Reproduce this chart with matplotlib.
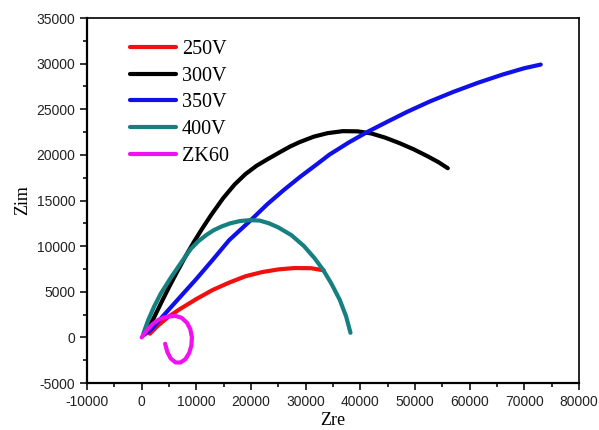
import numpy as np
import matplotlib
matplotlib.use("Agg")
import matplotlib.pyplot as plt
from matplotlib.ticker import MultipleLocator

plt.rcParams['axes.unicode_minus'] = False

# Nyquist data
x_250 = [1500, 3000, 5000, 7000, 10000, 13000, 16000, 19000, 22000, 25000, 28000, 31000, 33300]
y_250 = [400, 1300, 2300, 3100, 4200, 5200, 6000, 6700, 7150, 7450, 7600, 7580, 7350]

x_300 = [1100, 2200, 3500, 5000, 6500, 8000, 9500, 11000, 12700, 14900, 17000, 19000, 21000,
         23100, 25300, 27100, 28900, 31500, 34000, 36800, 39500, 42000, 44500, 47200, 49800,
         52300, 54300, 56000]
y_300 = [800, 2100, 3700, 5500, 7200, 8850, 10400, 11850, 13400, 15250, 16750, 17900, 18800,
         19550, 20300, 20900, 21400, 22000, 22380, 22600, 22580, 22350, 21900, 21280, 20600,
         19850, 19200, 18540]

x_350 = [300, 1800, 4000, 7000, 10000, 13000, 16000, 19800, 23000, 26000, 29000, 32000, 34400,
         38000, 41400, 45000, 48500, 52700, 57000, 61500, 66000, 70000, 73000]
y_350 = [200, 900, 2400, 4400, 6400, 8500, 10650, 12750, 14600, 16150, 17600, 18950, 20050,
         21400, 22550, 23650, 24700, 25850, 26900, 27900, 28800, 29500, 29900]

x_400 = [300, 1200, 2300, 3500, 5400, 7000, 9000, 10400, 11900, 13200, 14600, 16200, 18000,
         19800, 21600, 23300, 25000, 27400, 29700, 31600, 33200, 34700, 36250, 37400, 38200]
y_400 = [400, 1900, 3400, 4800, 6600, 8000, 9700, 10550, 11250, 11750, 12150, 12500, 12750,
         12850, 12800, 12500, 12050, 11200, 10000, 8700, 7400, 5900, 4100, 2300, 500]

x_zk60 = [0, 1000, 2000, 3000, 4000, 5000, 6200, 7300, 8300, 8900, 9200, 9100, 8700, 8000,
          7100, 6200, 5300, 4700, 4300]
y_zk60 = [0, 800, 1450, 1900, 2150, 2300, 2350, 2150, 1600, 900, 0, -900, -1700, -2400,
          -2750, -2750, -2300, -1600, -700]

labels = ['250V', '300V', '350V', '400V', 'ZK60']
colors = ['#f01010', '#000000', '#1010e8', '#168080', '#f010f0']

fig = plt.figure(figsize=(5.99, 4.30), dpi=100)
ax = fig.add_axes([0.1452, 0.1093, 0.8214, 0.8488])

series = [(x_250, y_250), (x_300, y_300), (x_350, y_350), (x_400, y_400), (x_zk60, y_zk60)]
for (xs, ys), lab, col in zip(series, labels, colors):
    ax.plot(xs, ys, color=col, lw=3.0, label=lab, solid_capstyle='round',
            solid_joinstyle='round')

ax.set_xlim(-10000, 80000)
ax.set_ylim(-5000, 35000)
ax.xaxis.set_major_locator(MultipleLocator(10000))
ax.xaxis.set_minor_locator(MultipleLocator(5000))
ax.yaxis.set_major_locator(MultipleLocator(5000))
ax.yaxis.set_minor_locator(MultipleLocator(2500))

ax.tick_params(which='both', direction='out', width=1.3, top=False, right=False,
               labelsize=10, colors='#222222')
ax.tick_params(which='major', length=5)
ax.tick_params(which='minor', length=3)
for lab in ax.get_xticklabels() + ax.get_yticklabels():
    lab.set_family('Liberation Sans')
for side in ['left', 'bottom']:
    ax.spines[side].set_linewidth(1.6)
for side in ['top', 'right']:
    ax.spines[side].set_linewidth(1.2)

ax.set_xlabel('Zre', family='Liberation Serif', fontsize=13, labelpad=2)
ax.set_ylabel('Zim', family='Liberation Serif', fontsize=13, labelpad=4)

ax.legend(loc='upper left', frameon=False, prop={'family': 'Liberation Serif', 'size': 14.5},
          handlelength=2.3, handletextpad=0.3, labelspacing=0.38,
          bbox_to_anchor=(0.05, 0.99))

fig.savefig('out.png', dpi=100)
